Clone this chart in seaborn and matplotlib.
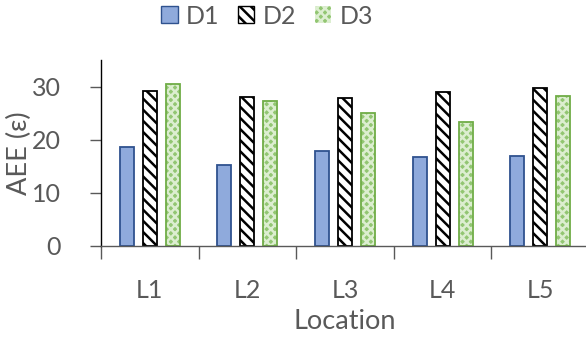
import matplotlib
matplotlib.use("Agg")
import matplotlib.pyplot as plt
from matplotlib.patches import Patch, Rectangle
import seaborn as sns
import pandas as pd

# Average endpoint error per location for the three datasets
locations = ["L1", "L2", "L3", "L4", "L5"]
series = ["D1", "D2", "D3"]
d1 = [18.6, 15.2, 17.9, 16.7, 16.9]
d2 = [29.1, 28.1, 27.9, 28.9, 29.7]
d3 = [30.5, 27.2, 25.0, 23.4, 28.3]
y_ticks = [0, 10, 20, 30]

df = pd.DataFrame({
    "Location": locations * 3,
    "Series": [s for s in series for _ in locations],
    "AEE": d1 + d2 + d3,
})

sns.set_theme(style="white")
plt.rcParams["font.family"] = ["Lato", "DejaVu Sans"]
plt.rcParams["hatch.linewidth"] = 1.8
text_color = "#595959"
fs = 18
fs_title = 19.5

fig = plt.figure(figsize=(5.86, 3.43), dpi=100)
ax = fig.add_axes([101 / 586, 1 - 245.7 / 343, 488 / 586, (245.7 - 60) / 343])

sns.barplot(data=df, x="Location", y="AEE", hue="Series", order=locations,
            hue_order=series, width=0.705, gap=0.39, ax=ax, legend=False,
            palette=["#8FAADC", "white", "#A9D18E"])

styles = {
    "D1": dict(facecolor="#8FAADC", edgecolor="#2F528F", linewidth=1.3, hatch=None),
    "D2": dict(facecolor="white", edgecolor="black", linewidth=1.3, hatch="\\\\\\"),
    "D3": dict(facecolor="#92C672", edgecolor="#DCEED0", linewidth=0, hatch="xxxx"),
}

bars = ax.patches
n = len(locations)
for i, s in enumerate(series):
    for p in bars[i * n:(i + 1) * n]:
        st = styles[s]
        p.set_facecolor(st["facecolor"])
        p.set_edgecolor(st["edgecolor"])
        p.set_linewidth(st["linewidth"])
        if st["hatch"]:
            p.set_hatch(st["hatch"])
        if s == "D3":
            ax.add_patch(Rectangle(p.get_xy(), p.get_width(), p.get_height(),
                                   fill=False, edgecolor="#70AD47", linewidth=1.3))

ax.set_ylim(0, 35)
ax.set_xlim(-0.5, len(locations) - 0.5)
ax.set_yticks(y_ticks)
ax.set_xticks(range(len(locations)))
ax.set_xticklabels(locations)
ax.set_xticks([i - 0.5 for i in range(len(locations) + 1)], minor=True)

for side in ["top", "right"]:
    ax.spines[side].set_visible(False)
ax.spines["left"].set_color("black")
ax.spines["left"].set_linewidth(1.0)
ax.spines["bottom"].set_color("#595959")
ax.spines["bottom"].set_linewidth(1.0)

ax.tick_params(axis="y", which="major", direction="out", length=8, width=1,
               color="#595959", labelsize=fs, labelcolor=text_color, pad=21, left=True)
ax.tick_params(axis="x", which="major", length=0, labelsize=fs,
               labelcolor=text_color, pad=24)
ax.tick_params(axis="x", which="minor", direction="out", length=9, width=1,
               color="#595959", bottom=True)

ax.set_xlabel("Location", fontsize=fs_title, color=text_color, labelpad=5)
ax.set_ylabel("AEE (ε)", fontsize=fs_title, color=text_color, va="center")
ax.yaxis.set_label_coords(-0.167, 0.5)

handles = [
    Patch(facecolor="#8FAADC", edgecolor="#2F528F", linewidth=1.0, label="D1"),
    Patch(facecolor="white", edgecolor="black", hatch="\\\\\\", linewidth=1.0, label="D2"),
    Patch(facecolor="#92C672", edgecolor="#DCEED0", hatch="xxxx", linewidth=0, label="D3"),
]
fig.legend(handles=handles, loc="center", bbox_to_anchor=(267 / 586, 1 - 16 / 343),
           ncol=3, frameon=False, fontsize=fs, labelcolor=text_color,
           handlelength=0.66, handleheight=0.66, handletextpad=0.33,
           columnspacing=0.74, borderaxespad=0)

fig.savefig("out.png", dpi=100)
